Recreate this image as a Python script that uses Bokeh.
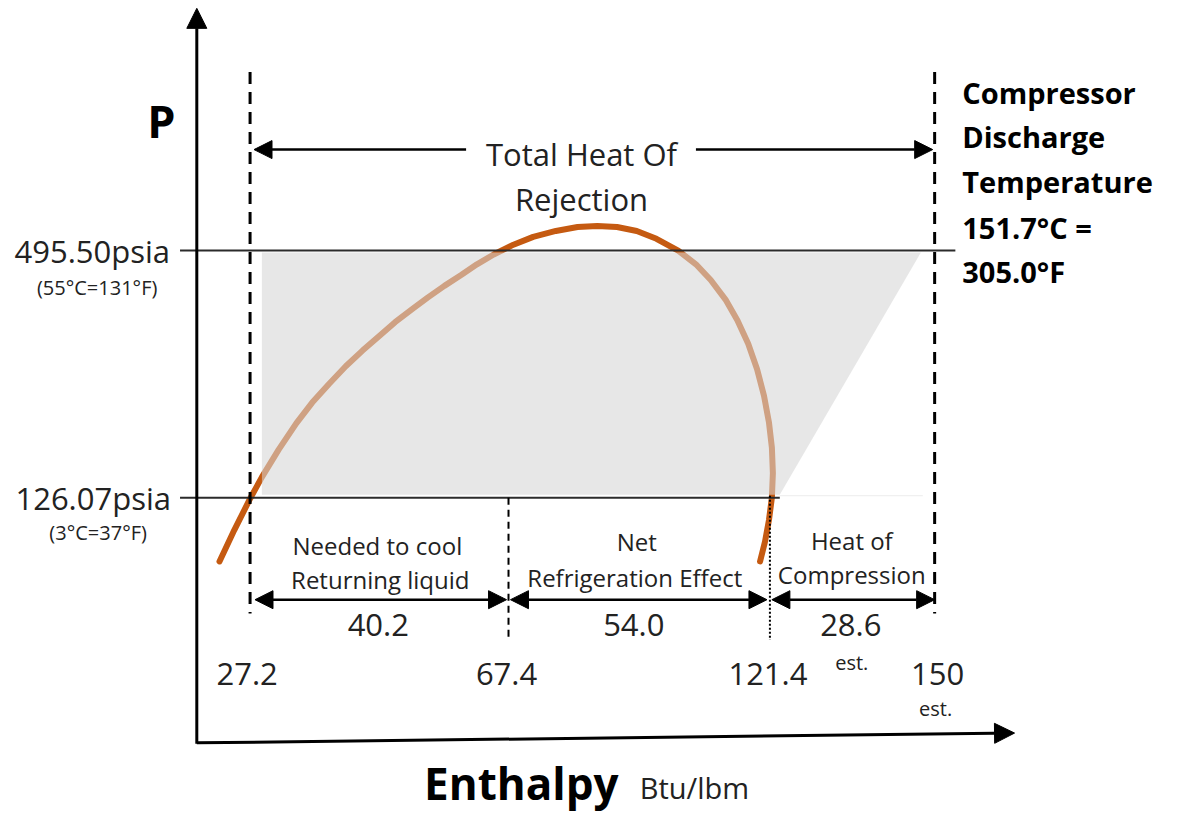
from bokeh.plotting import figure
from bokeh.models import Range1d, ColumnDataSource, Arrow, NormalHead
from bokeh.core.properties import value
from bokeh.embed import file_html
from bokeh.resources import INLINE

# ---------------- data ----------------
ENTHALPY = [27.2, 67.4, 121.4, 150.0]
ENTHALPY_LABELS = ["27.2", "67.4", "121.4", "150"]
SEGMENTS = [40.2, 54.0, 28.6]
SEGMENT_LINE1 = ["Needed to cool", "Net", "Heat of"]
SEGMENT_LINE2 = ["Returning liquid", "Refrigeration Effect", "Compression"]
PRESSURES = [495.50, 126.07]
SAT_TEMPS = ["(55°C=131°F)", "(3°C=37°F)"]
DISCHARGE_C = 151.7
DISCHARGE_F = 305.0

# saturation dome, in diagram units (schematic)
DOME_X = [222, 237, 253, 265, 282, 300, 316, 333, 350, 367, 384, 400, 417, 433,
          450, 467, 483, 500, 520, 540, 563, 585, 605, 625, 645, 665, 687, 705,
          720, 735, 747, 758, 767, 774, 779, 782, 783, 782, 779, 775, 770]
DOME_Y = [572, 540, 508, 486, 458, 431, 410, 391, 373, 357, 342, 328, 315, 303,
          291, 280, 269, 259, 249, 241, 235, 231, 230, 231, 235, 243, 255, 269,
          285, 305, 326, 350, 376, 403, 430, 456, 482, 507, 530, 552, 572]

# ---------------- layout (diagram units = reference pixels) ----------------
X_POS = [253, 515, 780, 947]       # where each enthalpy value sits
Y_POS = [255, 507]                 # where each pressure sits
FONT = value("Open Sans")

p = figure(width=1163, height=812, x_range=Range1d(0, 1179), y_range=Range1d(828, 0),
           output_backend="svg", toolbar_location=None, min_border=0)
p.axis.visible = False
p.grid.visible = False
p.outline_line_color = None
p.background_fill_color = "white"
p.border_fill_color = "white"

# dome (full, dark orange)
p.line(DOME_X, DOME_Y, line_color="#C55A11", line_width=6, line_cap="round", line_join="round")

# grey process region (semi transparent, lightens the dome below it)
gx = [X_POS[0] + 12, 933, X_POS[2] + 10, X_POS[0] + 12]
gy = [Y_POS[0] + 2, Y_POS[0] + 2, Y_POS[1] - 3, Y_POS[1] - 3]
p.patch(gx, gy, fill_color="#D6D6D6", fill_alpha=0.58, line_color=None)
p.line([X_POS[2] + 10, 935], [Y_POS[1] - 2, Y_POS[1] - 2], line_color="#ECECEC", line_width=1)

# pressure lines
p.line([182, 968], [Y_POS[0], Y_POS[0]], line_color="#2b2b2b", line_width=2)
p.line([182, X_POS[2] + 10], [Y_POS[1], Y_POS[1]], line_color="#2b2b2b", line_width=2)

# vertical guides
p.line([X_POS[0], X_POS[0]], [73, 625], line_color="black", line_width=3, line_dash="12 8")
p.line([X_POS[3], X_POS[3]], [73, 625], line_color="black", line_width=3, line_dash="12 8")
p.line([X_POS[1], X_POS[1]], [Y_POS[1], 652], line_color="black", line_width=2, line_dash="7 5")
p.line([X_POS[2], X_POS[2]], [Y_POS[1] - 2, 652], line_color="black", line_width=2, line_dash="2 2")

# axes with arrow heads
p.add_layout(Arrow(x_start=199, y_start=758, x_end=199, y_end=8, line_width=3,
                   end=NormalHead(size=20, fill_color="black", line_color="black")))
p.add_layout(Arrow(x_start=199, y_start=757, x_end=1028, y_end=747, line_width=3,
                   end=NormalHead(size=20, fill_color="black", line_color="black")))

# total heat of rejection arrows
p.add_layout(Arrow(x_start=472, y_start=152, x_end=X_POS[0] + 4, y_end=152, line_width=2.5,
                   end=NormalHead(size=18, fill_color="black", line_color="black")))
p.add_layout(Arrow(x_start=705, y_start=152, x_end=X_POS[3] - 2, y_end=152, line_width=2.5,
                   end=NormalHead(size=18, fill_color="black", line_color="black")))

# segment arrows (between consecutive enthalpy positions)
seg_src = ColumnDataSource(dict(
    x0=[X_POS[0] + 5, X_POS[1] + 2, X_POS[2] + 2],
    x1=[X_POS[1] - 2, X_POS[2] - 3, X_POS[3]],
    y=[611, 611, 611]))
p.add_layout(Arrow(source=seg_src, x_start="x0", y_start="y", x_end="x1", y_end="y",
                   line_width=2.5,
                   start=NormalHead(size=18, fill_color="black", line_color="black"),
                   end=NormalHead(size=18, fill_color="black", line_color="black")))

TXT = "#222222"

# enthalpy tick labels
p.text(x=[250, 513, 778, 950], y=[687] * 4, text=ENTHALPY_LABELS, text_font=FONT,
       text_font_size="31px", text_align="center", text_baseline="middle", text_color=TXT)
p.text(x=[863, 948], y=[675, 722], text=["est.", "est."], text_font=FONT,
       text_font_size="20px", text_align="center", text_baseline="middle", text_color=TXT)

# segment values and names
seg_cx = [383, 642, 862]
p.text(x=seg_cx, y=[637] * 3, text=[f"{v:.1f}" for v in SEGMENTS], text_font=FONT,
       text_font_size="31px", text_align="center", text_baseline="middle", text_color=TXT)
p.text(x=[382, 645, 863], y=[556, 552, 551], text=SEGMENT_LINE1, text_font=FONT,
       text_font_size="24px", text_align="center", text_baseline="middle", text_color=TXT)
p.text(x=[385, 643, 863], y=[590, 588, 585], text=SEGMENT_LINE2, text_font=FONT,
       text_font_size="24px", text_align="center", text_baseline="middle", text_color=TXT)

# pressure labels
p.text(x=[93, 94], y=Y_POS, text=[f"{v:.2f}psia" for v in PRESSURES], text_font=FONT,
       text_font_size="31px", text_align="center", text_baseline="middle", text_color=TXT)
p.text(x=[98, 99], y=[293, 542], text=SAT_TEMPS, text_font=FONT,
       text_font_size="20px", text_align="center", text_baseline="middle", text_color=TXT)

# titles
p.text(x=[163], y=[122], text=["P"], text_font=FONT, text_font_style="bold",
       text_font_size="45px", text_align="center", text_baseline="middle", text_color="black")
p.text(x=[589, 589], y=[157, 202], text=["Total Heat Of", "Rejection"], text_font=FONT,
       text_font_size="31px", text_align="center", text_baseline="middle", text_color=TXT)
right_lines = ["Compressor", "Discharge", "Temperature",
               f"{DISCHARGE_C:.1f}°C =", f"{DISCHARGE_F:.1f}°F"]
p.text(x=[975] * 5, y=[94, 139, 185, 231, 276], text=right_lines, text_font=FONT,
       text_font_style="bold", text_font_size="29px", text_align="left",
       text_baseline="middle", text_color="black")
p.text(x=[528], y=[798], text=["Enthalpy"], text_font=FONT, text_font_style="bold",
       text_font_size="44px", text_align="center", text_baseline="middle", text_color="black")
p.text(x=[648], y=[802], text=["Btu/lbm"], text_font=FONT,
       text_font_size="29px", text_align="left", text_baseline="middle", text_color=TXT)

open("out.html", "w").write(file_html(p, INLINE))
